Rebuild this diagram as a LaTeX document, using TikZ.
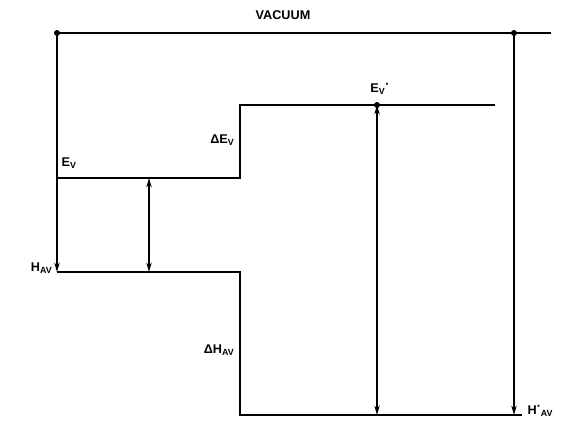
\documentclass[tikz,border=0pt]{standalone}
\usepackage{fontspec}
\setmainfont{Liberation Sans}
\usetikzlibrary{arrows.meta}

\begin{document}
\begin{tikzpicture}[x=0.75pt,y=-0.75pt,
  level/.style={line width=1.9pt},
  gap/.style={line width=1.1pt,-{Stealth[length=7pt,width=4pt]}},
  gapboth/.style={line width=1.1pt,{Stealth[length=7pt,width=4pt]}-{Stealth[length=7pt,width=4pt]}},
  lbl/.style={font=\bfseries\fontsize{9.5}{10}\selectfont,inner sep=1pt}]
\path[use as bounding box] (0,0) rectangle (573,423);

% niveaux d'energie
\coordinate (vacL) at (57,33);
\coordinate (vacR) at (514,33);
\coordinate (vacEnd) at (551,33);
\coordinate (evL) at (57,178);
\coordinate (evR) at (240,178);
\coordinate (evpL) at (240,105);
\coordinate (evpD) at (377,105);
\coordinate (evpR) at (495,105);
\coordinate (havL) at (57,272);
\coordinate (havM) at (149,272);
\coordinate (havR) at (240,272);
\coordinate (evM) at (149,178);
\coordinate (bot) at (240,415);
\coordinate (botM) at (377,415);
\coordinate (botR) at (514,415);
\coordinate (botEnd) at (522,415);

\draw[level] (vacL) -- (vacEnd);
\draw[level] (evL) -- (evR) -- (evpL) -- (evpR);
\draw[level] (havL) -- (havR) -- (bot) -- (botEnd);

\fill (vacL) circle (3);
\fill (vacR) circle (3);
\fill (evpD) circle (3);

% fleches
\draw[gap] (vacL) -- (havL);
\draw[gapboth] (evM) -- (havM);
\draw[gapboth] (evpD) -- (botM);
\draw[gap] (vacR) -- (botR);

% etiquettes
\node[lbl] (vacuum) at (283,15) {VACUUM};
\node[lbl,anchor=south west] (ev) at (60,170) {E\textsubscript{V}};
\node[lbl,anchor=south east] (dev) at (236,147) {ΔE\textsubscript{V}};
\node[lbl,anchor=east] (hav) at (54,268) {H\textsubscript{AV}};
\node[lbl,anchor=east] (dhav) at (236,350) {ΔH\textsubscript{AV}};
\node[lbl,anchor=south] (evp) at (380,96) {E\textsubscript{V}\raisebox{0.6ex}{·}};
\node[lbl,anchor=west] (havp) at (526,411) {H\raisebox{0.6ex}{·}\textsubscript{AV}};
\end{tikzpicture}
\end{document}
